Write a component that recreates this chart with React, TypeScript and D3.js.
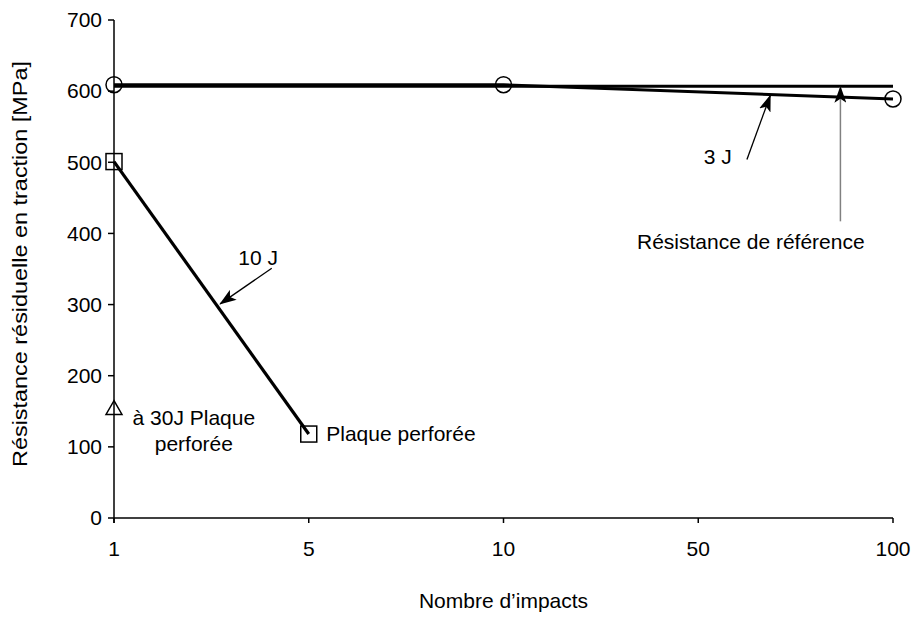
import * as d3 from 'd3'

// impact counts (categorical, evenly spaced)
const impacts = ['1', '5', '10', '50', '100']
const yTicks = [0, 100, 200, 300, 400, 500, 600, 700]

// series
const ref = [
  { n: '1', v: 607 },
  { n: '100', v: 607 },
]
const j3 = [
  { n: '1', v: 609 },
  { n: '10', v: 609 },
  { n: '100', v: 589 },
]
const j10 = [
  { n: '1', v: 501 },
  { n: '5', v: 118 },
]
const j30 = [{ n: '1', v: 152 }]

export default function App() {
  const width = 914
  const height = 618
  const margin = { top: 20, right: 21, bottom: 100, left: 114 }

  const x = d3.scalePoint<string>()
    .domain(impacts)
    .range([margin.left, width - margin.right])
    .padding(0)

  const y = d3.scaleLinear()
    .domain([0, 700])
    .range([height - margin.bottom, margin.top])

  // fractional position along the category axis
  const xi = (i: number) => (x(impacts[0]) || 0) + i * x.step()

  const line = d3.line<{ n: string; v: number }>()
    .x(d => x(d.n) || 0)
    .y(d => y(d.v))

  const font = 'Arial, "Liberation Sans", sans-serif'
  const fs = 21
  const y0 = y(0)

  const arrow = (x1: number, y1: number, x2: number, y2: number, stroke: string) => (
    <line x1={x1} y1={y1} x2={x2} y2={y2} stroke={stroke} strokeWidth={1.3} markerEnd="url(#head)" />
  )

  return (
    <svg width={width} height={height} style={{ position: 'absolute', left: 0, top: 0, background: '#fff' }}
      fontFamily={font}>
      <defs>
        <marker id="head" viewBox="0 0 17 12" refX={16} refY={6} markerWidth={17} markerHeight={12}
          markerUnits="userSpaceOnUse" orient="auto">
          <path d="M0,0 L17,6 L0,12 L4,6 Z" fill="#000" />
        </marker>
      </defs>

      {/* axes */}
      <line x1={margin.left} x2={margin.left} y1={y(700)} y2={y0 + 5} stroke="#000" strokeWidth={1.5} />
      <line x1={margin.left} x2={x('100')} y1={y0} y2={y0} stroke="#000" strokeWidth={1.5} />
      {yTicks.map(t => (
        <g key={t}>
          <line x1={margin.left - 6} x2={margin.left} y1={y(t)} y2={y(t)} stroke="#000" strokeWidth={1.5} />
          <text x={margin.left - 12} y={y(t)} dy="0.35em" textAnchor="end" fontSize={fs}>{t}</text>
        </g>
      ))}
      {impacts.map(c => (
        <g key={c}>
          <line x1={x(c)} x2={x(c)} y1={y0} y2={y0 + 5} stroke="#000" strokeWidth={1.5} />
          <text x={x(c)} y={y0 + 31} dy="0.35em" textAnchor="middle" fontSize={fs}>{c}</text>
        </g>
      ))}

      <text x={(margin.left + (x('100') || 0)) / 2} y={608} textAnchor="middle" fontSize={fs}>Nombre d’impacts</text>
      <text transform={`translate(27,264) rotate(-90) scale(1.115,1)`} textAnchor="middle" fontSize={fs}>
        Résistance résiduelle en traction [MPa]
      </text>

      {/* series */}
      <path d={line(ref) || ''} fill="none" stroke="#000" strokeWidth={3} />
      <path d={line(j3) || ''} fill="none" stroke="#000" strokeWidth={3} />
      <path d={line(j10) || ''} fill="none" stroke="#000" strokeWidth={3.2} />

      {j3.map(d => (
        <circle key={d.n} cx={x(d.n)} cy={y(d.v)} r={8} fill="none" stroke="#000" strokeWidth={1.5} />
      ))}
      {j10.map(d => (
        <rect key={d.n} x={(x(d.n) || 0) - 8} y={y(d.v) - 8} width={16} height={16}
          fill="none" stroke="#000" strokeWidth={1.5} />
      ))}
      {j30.map(d => (
        <path key={d.n}
          d={d3.symbol().type(d3.symbolTriangle).size(110)() || ''}
          transform={`translate(${x(d.n)},${y(d.v)})`}
          fill="none" stroke="#000" strokeWidth={1.5} />
      ))}

      {/* annotations */}
      <text x={xi(0.74)} y={y(366)} dy="0.35em" textAnchor="middle" fontSize={fs}>10 J</text>
      {arrow(xi(0.81), y(351), xi(0.545), y(301), '#000')}

      <text x={xi(3.1)} y={y(508)} dy="0.35em" textAnchor="middle" fontSize={fs}>3 J</text>
      {arrow(xi(3.25), y(504), xi(3.37), y(594), '#000')}

      <line x1={xi(3.73)} x2={xi(3.73)} y1={y(417)} y2={y(606)} stroke="#808080" strokeWidth={1.5} markerEnd="url(#head)" />
      <text x={xi(3.27)} y={y(389)} dy="0.35em" textAnchor="middle" fontSize={fs}>Résistance de référence</text>

      <text x={xi(0.41)} y={y(141)} dy="0.35em" textAnchor="middle" fontSize={fs}>à 30J Plaque</text>
      <text x={xi(0.41)} y={y(104)} dy="0.35em" textAnchor="middle" fontSize={fs}>perforée</text>

      <text x={xi(1.09)} y={y(118)} dy="0.35em" textAnchor="start" fontSize={fs}>Plaque perforée</text>
    </svg>
  )
}
